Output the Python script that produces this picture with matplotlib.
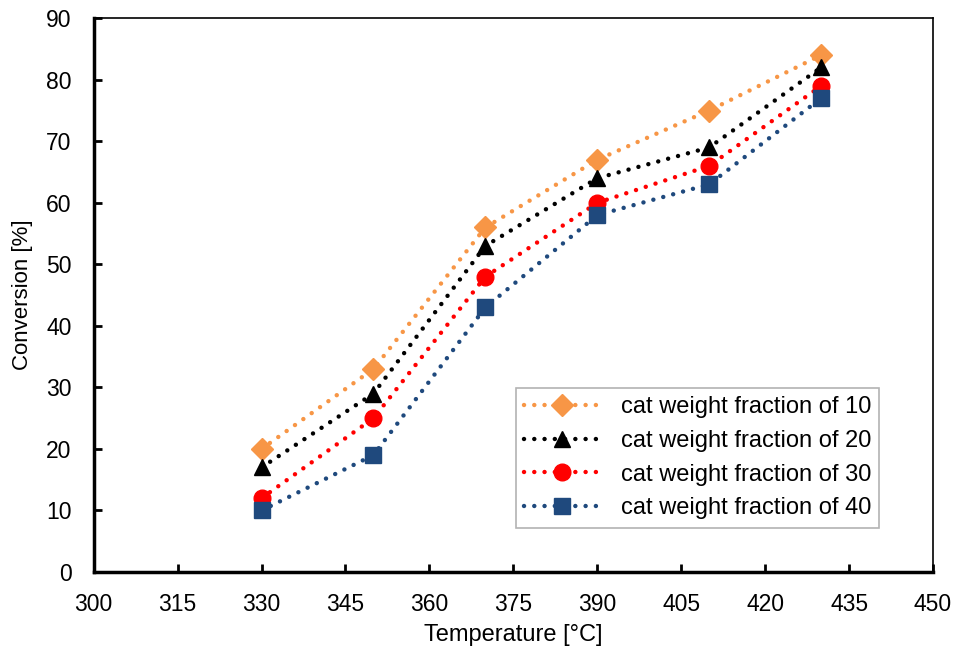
import matplotlib
matplotlib.use("Agg")
import matplotlib.pyplot as plt

plt.rcParams['font.family'] = ['Liberation Sans', 'DejaVu Sans']

temperature = [330, 350, 370, 390, 410, 430]
frac_10 = [20, 33, 56, 67, 75, 84]
frac_20 = [17, 29, 53, 64, 69, 82]
frac_30 = [12, 25, 48, 60, 66, 79]
frac_40 = [10, 19, 43, 58, 63, 77]
labels = ["cat weight fraction of 10", "cat weight fraction of 20",
          "cat weight fraction of 30", "cat weight fraction of 40"]
x_ticks = list(range(300, 451, 15))
y_ticks = list(range(0, 91, 10))

fig = plt.figure(figsize=(9.56, 6.5), dpi=100)
ax = fig.add_axes([0.098, 0.12, 0.878, 0.852])

styles = [
    (frac_10, '#F79646', 'D', 11),
    (frac_20, '#000000', '^', 12),
    (frac_30, '#FF0000', 'o', 12),
    (frac_40, '#1F497D', 's', 12),
]
for (vals, col, mk, ms), lab in zip(styles, labels):
    ax.plot(temperature, vals, color=col, marker=mk, markersize=ms,
            markeredgecolor=col, markerfacecolor=col,
            linewidth=3.2, linestyle=(0, (0.01, 2.3)), dash_capstyle='round',
            label=lab)

ax.set_xlim(300, 450)
ax.set_ylim(0, 90)
ax.set_xticks(x_ticks)
ax.set_yticks(y_ticks)
ax.tick_params(direction='in', length=6, width=2, labelsize=16.5)
ax.tick_params(axis='x', pad=15)
ax.tick_params(axis='y', pad=16)
for s in ['left', 'bottom']:
    ax.spines[s].set_linewidth(2.5)
for s in ['top', 'right']:
    ax.spines[s].set_linewidth(1.2)
ax.set_xlabel('Temperature [°C]', fontsize=17)
ax.set_ylabel('Conversion [%]', fontsize=16)
ax.xaxis.set_label_coords(0.5, -0.094)
ax.yaxis.set_label_coords(-0.072, 0.5)

leg = ax.legend(loc='lower right', bbox_to_anchor=(0.936, 0.080),
                fontsize=17, frameon=True, fancybox=False, edgecolor='#A0A0A0',
                handlelength=3.2, borderpad=0.35, labelspacing=0.5,
                handletextpad=0.9, borderaxespad=0.0)
leg.get_frame().set_linewidth(1.2)

fig.savefig('out.png', dpi=100)
